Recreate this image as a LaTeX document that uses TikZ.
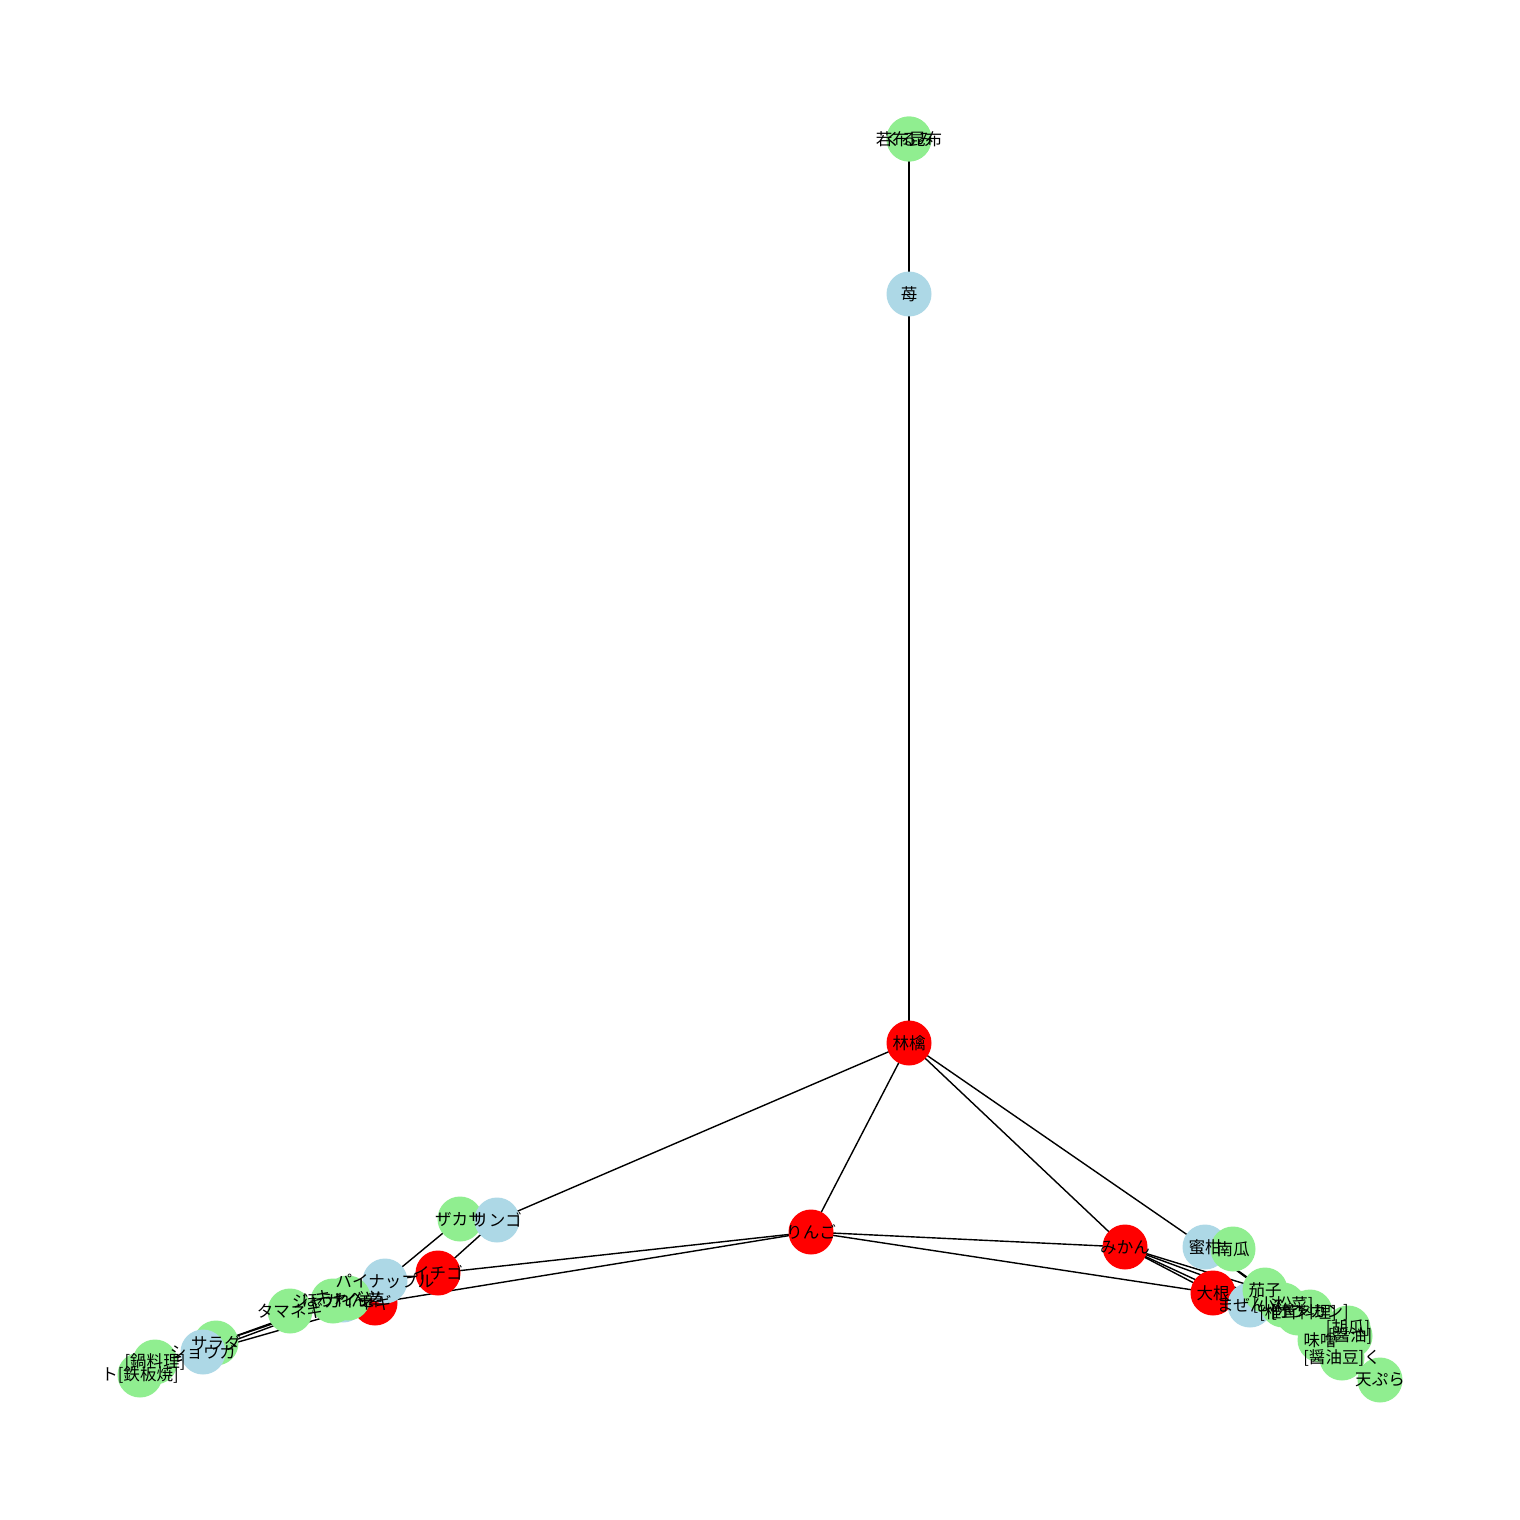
\documentclass[tikz,border=0pt]{standalone}
\usepackage{fontspec}
\setmainfont{Noto Sans CJK JP}
\usetikzlibrary{backgrounds}
\definecolor{nodeblue}{RGB}{173,216,230}
\definecolor{nodegreen}{RGB}{144,238,144}
\definecolor{nodered}{RGB}{255,0,0}
\begin{document}
\begin{tikzpicture}[x=0.02cm,y=-0.02cm,
  nd/.style={circle,minimum size=0.9cm,inner sep=0pt,draw=none},
  rednode/.style={nd,fill=nodered},
  bluenode/.style={nd,fill=nodeblue},
  greennode/.style={nd,fill=nodegreen},
  lbl/.style={font=\fontsize{9.4}{11}\selectfont,inner sep=0pt},
  edge/.style={line width=0.8pt,black}]
\useasboundingbox (0,0) rectangle (1520,1520);

% circles
\node[greennode] (g1) at (909,139) {};
\node[greennode] (g1b) at (909,139) {};
\node[bluenode] (b1) at (909,294) {};
\node[rednode] (r1) at (909,1043) {};
\node[greennode] (g2) at (460,1219) {};
\node[bluenode] (b2) at (497,1220) {};
\node[rednode] (r2) at (811,1232) {};
\node[rednode] (r3) at (1125,1247) {};
\node[bluenode] (b3) at (1205,1247) {};
\node[greennode] (g3) at (1233,1249) {};
\node[rednode] (r4) at (1213,1293) {};
\node[bluenode] (b7) at (1250,1305) {};
\node[greennode] (g4) at (1265,1290) {};
\node[greennode] (g5) at (1283,1305) {};
\node[greennode] (g6) at (1298,1313) {};
\node[greennode] (g7) at (1310,1312) {};
\node[greennode] (g8) at (1348,1328) {};
\node[greennode] (g9) at (1350,1336) {};
\node[greennode] (g10) at (1320,1340) {};
\node[greennode] (g11) at (1342,1358) {};
\node[greennode] (g12) at (1380,1380) {};
\node[rednode] (r6) at (375,1303) {};
\node[bluenode] (b5) at (343,1300) {};
\node[bluenode] (b4) at (385,1281) {};
\node[rednode] (r5) at (438,1273) {};
\node[greennode] (g14) at (333,1301) {};
\node[greennode] (g15) at (348,1298) {};
\node[greennode] (g13) at (290,1311) {};
\node[greennode] (g16) at (216,1343) {};
\node[bluenode] (b6) at (203,1352) {};
\node[greennode] (g18) at (155,1362) {};
\node[greennode] (g17) at (140,1375) {};

% edges
\begin{scope}[on background layer]
\fill[white] (0,0) rectangle (1520,1520);
\draw[line width=1.3pt] (b1.center) -- (g1.center);
\draw[edge] (r1.center) -- (b1.center);
\draw[edge] (r1.center) -- (b2.center);
\draw[edge] (r1.center) -- (r2.center);
\draw[edge] (r1.center) -- (r3.center);
\draw[edge] (r1.center) -- (b3.center);
\draw[edge] (r2.center) -- (r5.center);
\draw[edge] (r2.center) -- (r6.center);
\draw[edge] (r2.center) -- (r3.center);
\draw[edge] (r2.center) -- (r4.center);
\draw[edge] (r3.center) -- (r4.center);
\draw[edge] (r3.center) -- (b7.center);
\draw[edge] (r3.center) -- (g4.center);
\draw[edge] (r3.center) -- (g5.center);
\draw[edge] (b3.center) -- (g4.center);
\draw[edge] (b3.center) -- (g5.center);
\draw[edge] (r4.center) -- (b7.center);
\draw[edge] (b7.center) -- (g8.center);
\draw[edge] (b7.center) -- (g11.center);
\draw[edge] (g10.center) -- (g12.center);
\draw[edge] (b2.center) -- (r5.center);
\draw[edge] (g2.center) -- (b4.center);
\draw[edge] (b4.center) -- (r5.center);
\draw[edge] (b5.center) -- (b6.center);
\draw[edge] (b5.center) -- (g16.center);
\draw[edge] (r6.center) -- (b6.center);
\draw[edge] (g14.center) -- (g16.center);
\draw[edge] (b6.center) -- (g17.center);
\draw[edge] (b6.center) -- (g18.center);
\end{scope}

% labels
\node[lbl] at (g1) {くるみ};
\node[lbl] at (g1b) {若布昆布};
\node[lbl] at (b1) {苺};
\node[lbl] at (r1) {林檎};
\node[lbl] at (g2) {ザカサ};
\node[lbl] at (b2) {リンゴ};
\node[lbl] at (r2) {りんご};
\node[lbl] at (r3) {みかん};
\node[lbl] at (b3) {蜜柑};
\node[lbl] at (g3) {南瓜};
\node[lbl] at (r4) {大根};
\node[lbl] at (b7) {まぜんぶ};
\node[lbl] at (g4) {茄子};
\node[lbl] at (g5) {[小松菜]};
\node[lbl] at (g6) {[椎茸料理]};
\node[lbl] at (g7) {[ポンカン]};
\node[lbl] at (g8) {[胡瓜]};
\node[lbl] at (g9) {[醤油]};
\node[lbl] at (g10) {味噌};
\node[lbl] at (g11) {[醤油豆]く};
\node[lbl] at (g12) {天ぷら};
\node[lbl] at (r6) {ネギ};
\node[lbl] at (b5) {ほうれん草};
\node[lbl] at (b4) {パイナップル};
\node[lbl] at (r5) {イチゴ};
\node[lbl] at (g14) {ジャガイモ};
\node[lbl] at (g15) {キャベツ};
\node[lbl] at (g13) {タマネギ};
\node[lbl] at (g16) {サラダ};
\node[lbl] at (b6) {ショウガ};
\node[lbl] at (g18) {[鍋料理]};
\node[lbl] at (g17) {ト[鉄板焼]};
\end{tikzpicture}
\end{document}
